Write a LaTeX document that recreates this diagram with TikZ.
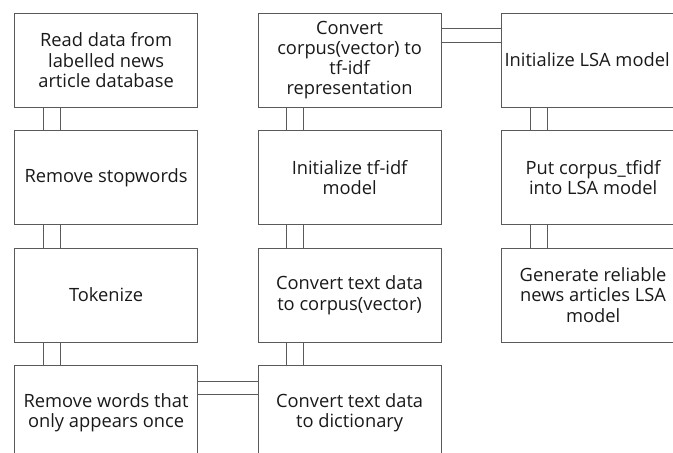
\documentclass[tikz,border=0pt]{standalone}
\usepackage{fontspec}
\setmainfont{Open Sans}
\usetikzlibrary{calc}
\definecolor{edge}{HTML}{5A5A5A}
\tikzset{
  box/.style={draw=edge, line width=1.2pt, rectangle, anchor=north west,
    minimum width=183pt, minimum height=94pt, inner sep=0pt, align=center,
    font=\fontsize{18.3}{20.3}\selectfont, text=black!90},
  link/.style={draw=edge, line width=1pt}
}
\begin{document}
\begin{tikzpicture}[x=1pt,y=-1pt]
\useasboundingbox (0,0) rectangle (673,453);
\clip (0,0) rectangle (673,453);
% column 1
\node[box] (a1) at (14,12.5) {Read data from\\labelled news\\article database};
\node[box] (a2) at (14,130) {Remove stopwords};
\node[box] (a3) at (14,247.5) {Tokenize};
\node[box] (a4) at (14,365) {Remove words that\\only appears once};
% column 2
\node[box] (b1) at (257.5,12.5) {Convert\\corpus(vector) to\\tf-idf\\representation};
\node[box] (b2) at (257.5,130) {Initialize tf-idf\\model};
\node[box] (b3) at (257.5,247.5) {Convert text data\\to corpus(vector)};
\node[box] (b4) at (257.5,365) {Convert text data\\to dictionary};
% column 3
\node[box] (c1) at (501,12.5) {Initialize LSA model\hspace*{12pt}};
\node[box] (c2) at (501,130) {Put corpus\_tfidf\\into LSA model};
\node[box] (c3) at (501,247.5) {Generate reliable\\news articles LSA\\model};
% vertical double links
\foreach \u/\v in {a1/a2,a2/a3,a3/a4,b1/b2,b2/b3,b3/b4,c1/c2,c2/c3}{
  \draw[link] ($(\u.south west)+(29,0)$) -- ($(\v.north west)+(29,0)$);
  \draw[link] ($(\v.north west)+(46,0)$) -- ($(\u.south west)+(46,0)$);
}
% horizontal double links
\draw[link] ($(b1.north east)+(0,16)$) -- ($(c1.north west)+(0,16)$);
\draw[link] ($(b1.north east)+(0,30)$) -- ($(c1.north west)+(0,30)$);
\draw[link] ($(a4.north east)+(0,16.5)$) -- ($(b4.north west)+(0,16.5)$);
\draw[link] ($(a4.north east)+(0,29.5)$) -- ($(b4.north west)+(0,29.5)$);
\end{tikzpicture}
\end{document}
